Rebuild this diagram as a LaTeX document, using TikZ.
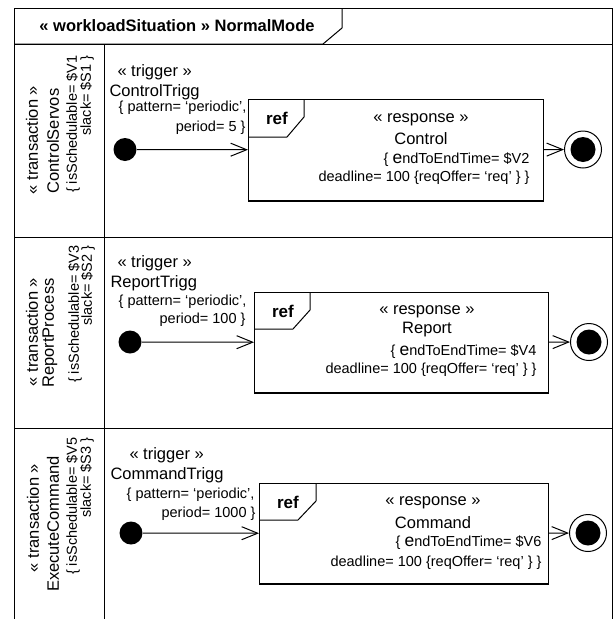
\documentclass[tikz,border=0pt]{standalone}
\usepackage{fontspec}
\setmainfont{Liberation Sans}
\usetikzlibrary{arrows.meta}
\begin{document}
\begin{tikzpicture}[x=1pt,y=-1pt,line width=1pt,
  big/.style={font=\fontsize{16.5}{19}\selectfont, inner sep=0pt},
  small/.style={font=\fontsize{14.5}{17}\selectfont, inner sep=0pt},
  title/.style={font=\fontsize{16.5}{19}\selectfont\bfseries, inner sep=0pt},
  reflabel/.style={font=\fontsize{17}{19}\selectfont\bfseries, inner sep=0pt},
  refbox/.style={draw, rectangle, anchor=north west, inner sep=0pt},
  initial/.style={circle, fill=black, minimum size=23pt, inner sep=0pt},
  finalring/.style={circle, draw, minimum size=37pt, inner sep=0pt},
  flow/.style={-{Straight Barb[length=16pt,width=13pt]}},
  vert/.style={rotate=90},
]
\newcommand{\biggerE}{{\fontsize{17.5}{19}\selectfont e}}
\useasboundingbox (0,0) rectangle (615,619);

% outer frame, open at the bottom
\draw (14,619) -- (14,8) -- (612,8) -- (612,619);
% name tab
\draw (14,44) -- (323,44) -- (342,28) -- (342,8);
\node[title] (hdr) at (177,26) {« workloadSituation » NormalMode};
% lanes
\draw (14,44) -- (612,44);
\draw (14,237) -- (612,237);
\draw (14,428) -- (612,428);
\draw (104,44) -- (104,619);

% ---------- lane 1 ----------
\node[big,vert] (t1s) at (32,140) {« transaction »};
\node[big,vert] (t1n) at (53,141) {ControlServos};
\node[small,vert,anchor=east] (t1a) at (73,55) {\{ isSchedulable= \$V1};
\node[small,vert,anchor=east] (t1b) at (87,55) {slack= \$S1 \}};

\node[big,anchor=west] (g1s) at (117,72) {« trigger »};
\node[big,anchor=west] (g1n) at (109,92) {ControlTrigg};
\node[small,anchor=east] (g1a) at (247,108) {\{ pattern= ‘periodic’,};
\node[small,anchor=east] (g1b) at (246,128) {period= 5 \}};

\node[refbox,minimum width=295pt,minimum height=101pt] (r1) at (248,99) {};
\draw[line width=1.6pt] (r1.south west) -- (r1.south east);
\draw (r1.north west) ++(0,38) -- ++(39,0) -- ++(17,-20) -- ++(0,-18);
\node[reflabel] (r1l) at (277,118) {ref};
\node[big] (r1s) at (421,120) {« response »};
\node[big] (r1n) at (421,139) {Control};
\node[small,anchor=east] (r1a) at (530,160) {\{ \biggerE ndToEndTime= \$V2};
\node[small,anchor=east] (r1b) at (530,178) {deadline= 100 \{reqOffer= ‘req’ \} \}};

\node[initial] (i1) at (125,149.5) {};
\node[finalring] (f1) at (583,149.5) {};
\fill (f1.center) circle (12.5);
\draw[flow] (i1) -- (r1);
\draw[flow] (r1) -- (f1);

% ---------- lane 2 ----------
\node[big,vert] (t2s) at (32,332) {« transaction »};
\node[big,vert] (t2n) at (50,333) {ReportProcess};
\node[small,vert,anchor=east] (t2a) at (75,245) {\{ isSchedulable= \$V3};
\node[small,vert,anchor=east] (t2b) at (88,245) {slack= \$S2 \}};

\node[big,anchor=west] (g2s) at (117,263) {« trigger »};
\node[big,anchor=west] (g2n) at (110,283) {ReportTrigg};
\node[small,anchor=east] (g2a) at (247,302) {\{ pattern= ‘periodic’,};
\node[small,anchor=east] (g2b) at (246,320) {period= 100 \}};

\node[refbox,minimum width=294pt,minimum height=100pt] (r2) at (254,292) {};
\draw[line width=1.6pt] (r2.south west) -- (r2.south east);
\draw (r2.north west) ++(0,37) -- ++(39,0) -- ++(17,-19) -- ++(0,-18);
\node[reflabel] (r2l) at (283,311) {ref};
\node[big] (r2s) at (427,312) {« response »};
\node[big] (r2n) at (427,330) {Report};
\node[small,anchor=east] (r2a) at (537,352) {\{ \biggerE ndToEndTime= \$V4};
\node[small,anchor=east] (r2b) at (537,370) {deadline= 100 \{reqOffer= ‘req’ \} \}};

\node[initial] (i2) at (130,342) {};
\node[finalring] (f2) at (589,342) {};
\fill (f2.center) circle (12.5);
\draw[flow] (i2) -- (r2);
\draw[flow] (r2) -- (f2);

% ---------- lane 3 ----------
\node[big,vert] (t3s) at (33,518) {« transaction »};
\node[big,vert] (t3n) at (53,524) {ExecuteCommand};
\node[small,vert,anchor=east] (t3a) at (73,437) {\{ isSchedulable= \$V5};
\node[small,vert,anchor=east] (t3b) at (87,437) {slack= \$S3 \}};

\node[big,anchor=west] (g3s) at (129,455) {« trigger »};
\node[big,anchor=west] (g3n) at (110,475) {CommandTrigg};
\node[small,anchor=east] (g3a) at (255,495) {\{ pattern= ‘periodic’,};
\node[small,anchor=east] (g3b) at (256,514) {period= 1000 \}};

\node[refbox,minimum width=289pt,minimum height=100pt] (r3) at (259,483) {};
\draw[line width=1.6pt] (r3.south west) -- (r3.south east);
\draw (r3.north west) ++(0,37) -- ++(39,0) -- ++(18,-19) -- ++(0,-18);
\node[reflabel] (r3l) at (288,502) {ref};
\node[big] (r3s) at (433,503) {« response »};
\node[big] (r3n) at (433,523) {Command};
\node[small,anchor=east] (r3a) at (542,543) {\{ \biggerE ndToEndTime= \$V6};
\node[small,anchor=east] (r3b) at (542,563) {deadline= 100 \{reqOffer= ‘req’ \} \}};

\node[initial] (i3) at (131,533) {};
\node[finalring] (f3) at (588,533) {};
\fill (f3.center) circle (12.5);
\draw[flow] (i3) -- (r3);
\draw[flow] (r3) -- (f3);
\end{tikzpicture}
\end{document}
